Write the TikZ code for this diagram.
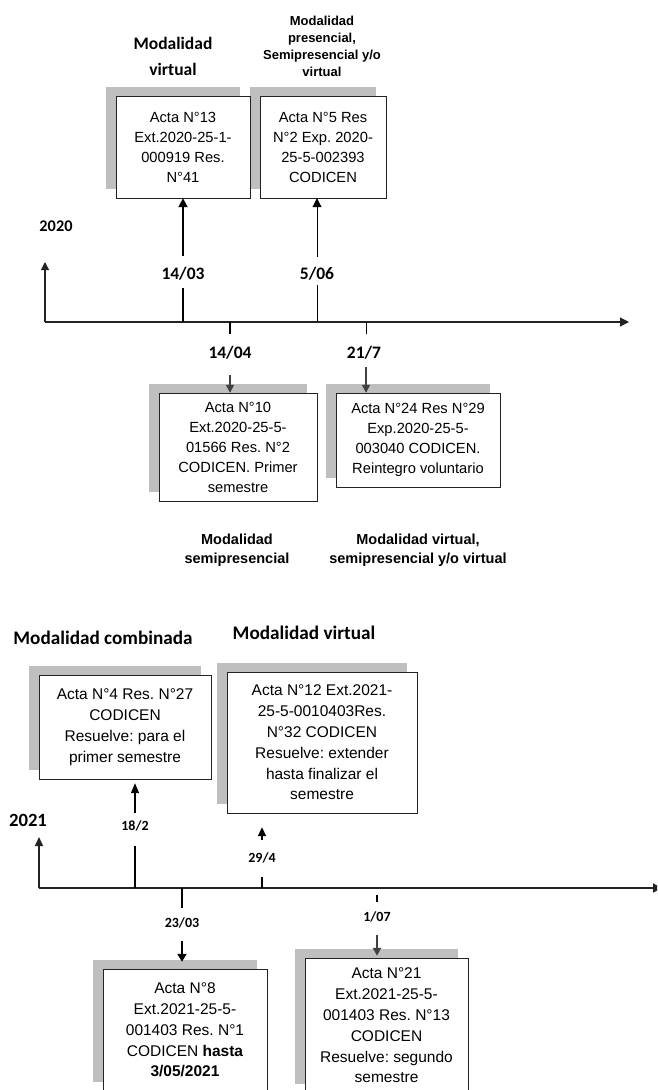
\documentclass[tikz,border=0pt]{standalone}
\usepackage{fontspec}
\setmainfont{Liberation Sans}
\newfontfamily\calib{Carlito}
\usetikzlibrary{arrows.meta,shadows}
\frenchspacing
\definecolor{sombra}{RGB}{191,191,191}
\definecolor{linea}{RGB}{35,35,35}
\tikzset{
  acta/.style={draw=linea, fill=white, align=center, inner sep=1pt,
    drop shadow={shadow xshift=-10pt, shadow yshift=9pt, fill=sombra, opacity=1}},
  letraA/.style={font=\fontsize{14.7pt}{20pt}\selectfont},
  letraB/.style={font=\fontsize{15.5pt}{20.8pt}\selectfont},
  titulo/.style={font=\calib\bfseries\fontsize{17.5pt}{26pt}\selectfont, align=center, inner sep=0pt},
  tituloB/.style={font=\calib\bfseries\fontsize{19.2pt}{22pt}\selectfont, inner sep=0pt},
  nota/.style={font=\bfseries\fontsize{13pt}{17pt}\selectfont, align=center, inner sep=0pt},
  notaB/.style={font=\bfseries\fontsize{14.5pt}{18.7pt}\selectfont, align=center, inner sep=0pt},
  fecha/.style={font=\calib\bfseries\fontsize{17.5pt}{20pt}\selectfont, inner sep=0pt, text height=11pt, text depth=1pt},
  fechaB/.style={font=\calib\bfseries\fontsize{14pt}{16pt}\selectfont, inner sep=0pt, text height=9pt, text depth=1pt},
  anio/.style={font=\calib\bfseries\fontsize{16.3pt}{18pt}\selectfont, inner sep=0pt},
  eje/.style={draw=linea, line width=1.2pt, -{Triangle[width=9pt,length=9pt]}},
  sube/.style={-{Triangle[width=9pt,length=9pt]}},
  baja/.style={draw=black!75, -{Triangle[width=8pt,length=8pt]}}
}
\begin{document}
\begin{tikzpicture}[x=1pt,y=-1pt]
    \useasboundingbox (0,0) rectangle (657,1090);
    \clip (0,0) rectangle (657,1090);

    % 2020 年：标题与方框
    \node[titulo] (modA) at (173,56) {Modalidad\\virtual};
    \node[nota] (modB) at (322,46.5) {Modalidad\\presencial,\\Semipresencial y/o\\virtual};
    \node[acta, letraA, minimum width=126pt, minimum height=102pt] (actaB) at (323,147) {Acta N°5 Res\\N°2 Exp. 2020-\\25-5-002393\\CODICEN};
    \node[acta, letraA, minimum width=134pt, minimum height=102pt] (actaA) at (183,147) {Acta N°13\\Ext.2020-25-1-\\000919 Res.\\N°41};
    \node[acta, letraA, minimum width=158pt, minimum height=108pt] (actaC) at (238,447) {Acta N°10\\Ext.2020-25-5-\\01566 Res. N°2\\CODICEN. Primer\\semestre};
    \node[acta, letraA, minimum width=164pt, minimum height=94pt] (actaD) at (418,440) {Acta N°24 Res N°29\\Exp.2020-25-5-\\003040 CODICEN.\\Reintegro voluntario};
    \node[notaB] (modC) at (237,550) {Modalidad\\semipresencial};
    \node[notaB] (modD) at (418,550) {Modalidad virtual,\\semipresencial y/o virtual};
    \node[anio] (y2020) at (56,226) {2020};

    % 2020 年：时间轴
    \coordinate (o20) at (45,322);
    \coordinate (fin20) at (629,322);
    \coordinate (top20) at (45,262);
    \coordinate (p1403) at (183,322);
    \coordinate (p0506) at (317,322);
    \coordinate (p1404) at (230,322);
    \coordinate (p2107) at (366,322);
    \node[fecha] (d1403) at (183,274) {14/03};
    \node[fecha] (d0506) at (317,274) {5/06};
    \node[fecha] (d1404) at (230,353) {14/04};
    \node[fecha] (d2107) at (364,353) {21/7};

    \draw[eje] (o20) -- (fin20);
    \draw[eje, -{Triangle[width=8pt,length=8pt]}] (o20) -- (top20);
    \draw[line width=2pt, shorten >=8pt] (p1403) -- (d1403);
    \draw[line width=2pt, sube, shorten <=12pt] (d1403) -- (d1403 |- actaA.south);
    \draw[line width=1pt, shorten >=5pt] (p0506) -- (d0506);
    \draw[line width=1pt, sube, shorten <=11pt] (d0506) -- (d0506 |- actaB.south);
    \draw[line width=2pt, shorten >=13pt] (p1404) -- (p1404 |- d1404.north);
    \draw[line width=1.3pt, baja, shorten <=16pt] (d1404) -- (d1404 |- actaC.north);
    \draw[line width=1pt, shorten >=13pt] (p2107) -- (p2107 |- d2107.north);
    \draw[line width=1.3pt, baja, shorten <=8pt] (p2107 |- d2107.south) -- (p2107 |- actaD.north);

    % 2021 年：标题与方框
    \node[tituloB] (modE) at (103,638) {Modalidad combinada};
    \node[tituloB] (modF) at (304,633) {Modalidad virtual};
    \node[acta, letraB, minimum width=172pt, minimum height=104pt] (actaE) at (125,727) {Acta N°4 Res. N°27\\CODICEN\\Resuelve: para el\\primer semestre};
    \node[acta, letraB, minimum width=190pt, minimum height=141pt] (actaF) at (322,742.5) {Acta N°12 Ext.2021-\\25-5-0010403Res.\\N°32 CODICEN\\Resuelve: extender\\hasta finalizar el\\semestre};
    \node[acta, letraB, minimum width=164pt, minimum height=122pt] (actaG) at (185,1030) {Acta N°8\\Ext.2021-25-5-\\001403 Res. N°1\\CODICEN \textbf{hasta}\\\textbf{3/05/2021}};
    \node[acta, letraB, minimum width=163pt, minimum height=135pt] (actaH) at (386.5,1025.5) {Acta N°21\\Ext.2021-25-5-\\001403 Res. N°13\\CODICEN\\Resuelve: segundo\\semestre};
    \node[anio, font=\calib\bfseries\fontsize{18.7pt}{20pt}\selectfont] (y2021) at (28,820) {2021};

    % 2021 年：时间轴
    \coordinate (o21) at (39,888);
    \coordinate (fin21) at (662,888);
    \coordinate (top21) at (39,837);
    \coordinate (p1802) at (135,888);
    \coordinate (p2904) at (262,888);
    \coordinate (p2303) at (182,888);
    \coordinate (p0107) at (377,888);
    \node[fechaB] (d1802) at (135,826) {18/2};
    \node[fechaB] (d2904) at (262,858) {29/4};
    \node[fechaB] (d2303) at (182,923) {23/03};
    \node[fechaB] (d0107) at (377,917) {1/07};

    \draw[eje, line width=1.3pt] (o21) -- (fin21);
    \draw[eje, line width=1.3pt, -{Triangle[width=8pt,length=9pt]}] (o21) -- (top21);
    \draw[line width=1.3pt, shorten >=15pt] (p1802) -- (d1802);
    \draw[line width=1.3pt, -{Triangle[width=8pt,length=10pt]}, shorten <=8pt, shorten >=4pt] (d1802) -- (d1802 |- actaE.south);
    \draw[line width=2pt, shorten >=14pt] (p2904) -- (d2904);
    \draw[line width=2pt, -{Triangle[width=8pt,length=9pt]}, shorten <=13pt, shorten >=14pt] (d2904) -- (d2904 |- actaF.south);
    \draw[line width=2pt, shorten >=10pt] (p2303) -- (d2303);
    \draw[line width=2pt, -{Triangle[width=9pt,length=8pt]}, shorten <=13pt, shorten >=7pt] (d2303) -- (d2303 |- actaG.north);
    \draw[line width=2pt, shorten <=7pt, shorten >=10pt] (p0107) -- (d0107);
    \draw[line width=2pt, baja, shorten <=13pt, shorten >=2pt] (d0107) -- (d0107 |- actaH.north);
\end{tikzpicture}
\end{document}
